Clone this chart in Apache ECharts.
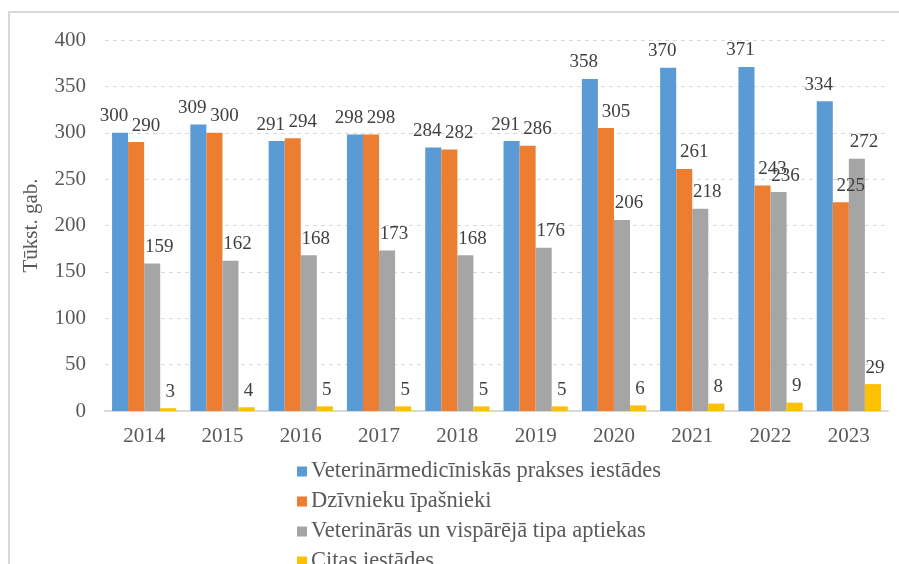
<!DOCTYPE html>
<html lang="lv" style="height: 100%">
<head>
  <meta charset="utf-8">
</head>
<body style="height: 100%; margin: 0; background: #fff">
<div id="container" style="width: 899px; height: 564px"></div>

  <script type="text/javascript" src="https://cdn.jsdelivr.net/npm/echarts@6/dist/echarts.min.js"></script>
  <script type="text/javascript">
    // dati (tūkst. gab.)
    var years = ['2014', '2015', '2016', '2017', '2018', '2019', '2020', '2021', '2022', '2023'];
    var names = [
      'Veterinārmedicīniskās prakses iestādes',
      'Dzīvnieku īpašnieki',
      'Veterinārās un vispārējā tipa aptiekas',
      'Citas iestādes'
    ];
    var praksesIestades = [300, 309, 291, 298, 284, 291, 358, 370, 371, 334];
    var ipasnieki = [290, 300, 294, 298, 282, 286, 305, 261, 243, 225];
    var aptiekas = [159, 162, 168, 173, 168, 176, 206, 218, 236, 272];
    var citas = [3, 4, 5, 5, 5, 5, 6, 8, 9, 29];
    var colors = ['#5B9BD5', '#ED7D31', '#A5A5A5', '#FFC000'];

    var dom = document.getElementById('container');
    var myChart = echarts.init(dom, null, { renderer: 'canvas' });
    var font = 'Liberation Serif';

    // etiķetes Excel stilā mazliet nobīdītas, lai nepārklājas
    function bar(name, values, color, dx) {
      return {
        name: name,
        type: 'bar',
        data: values,
        barGap: '0%',
        barCategoryGap: '18%',
        itemStyle: { color: color },
        label: {
          show: true,
          position: 'top',
          distance: 7,
          offset: [dx, 0],
          fontFamily: font,
          fontSize: 19,
          color: '#404040'
        }
      };
    }

    var option = {
      animation: false,
      color: colors,
      textStyle: { fontFamily: font },
      graphic: [{
        type: 'rect',
        shape: { x: 9, y: 12, width: 900, height: 600 },
        style: { fill: 'none', stroke: '#d9d9d9', lineWidth: 2 },
        silent: true
      }],
      grid: { left: 105, right: 11, top: 40, bottom: 153 },
      legend: {
        data: names,
        orient: 'vertical',
        left: 292,
        top: 455,
        height: 160,
        itemGap: 7,
        itemWidth: 10,
        itemHeight: 10,
        icon: 'rect',
        textStyle: { fontFamily: font, fontSize: 22.5, color: '#595959', padding: [0, 0, 0, -1] }
      },
      xAxis: {
        type: 'category',
        data: years,
        axisLine: { lineStyle: { color: '#d9d9d9', width: 2 } },
        axisTick: { show: false },
        axisLabel: { fontFamily: font, fontSize: 21, color: '#595959', margin: 15 }
      },
      yAxis: {
        type: 'value',
        min: 0,
        max: 400,
        interval: 50,
        name: 'Tūkst. gab.',
        nameLocation: 'middle',
        nameGap: 63,
        nameRotate: 90,
        nameTextStyle: { fontFamily: font, fontSize: 21, color: '#595959' },
        axisLine: { show: false },
        axisTick: { show: false },
        splitLine: { lineStyle: { color: '#d9d9d9', type: [4, 4] } },
        axisLabel: { fontFamily: font, fontSize: 21, color: '#595959', margin: 19 }
      },
      series: [
        bar(names[0], praksesIestades, colors[0], -6),
        bar(names[1], ipasnieki, colors[1], 10),
        bar(names[2], aptiekas, colors[2], 7),
        bar(names[3], citas, colors[3], 2)
      ]
    };

    myChart.setOption(option);
    window.addEventListener('resize', myChart.resize);
  </script>
</body>
</html>
